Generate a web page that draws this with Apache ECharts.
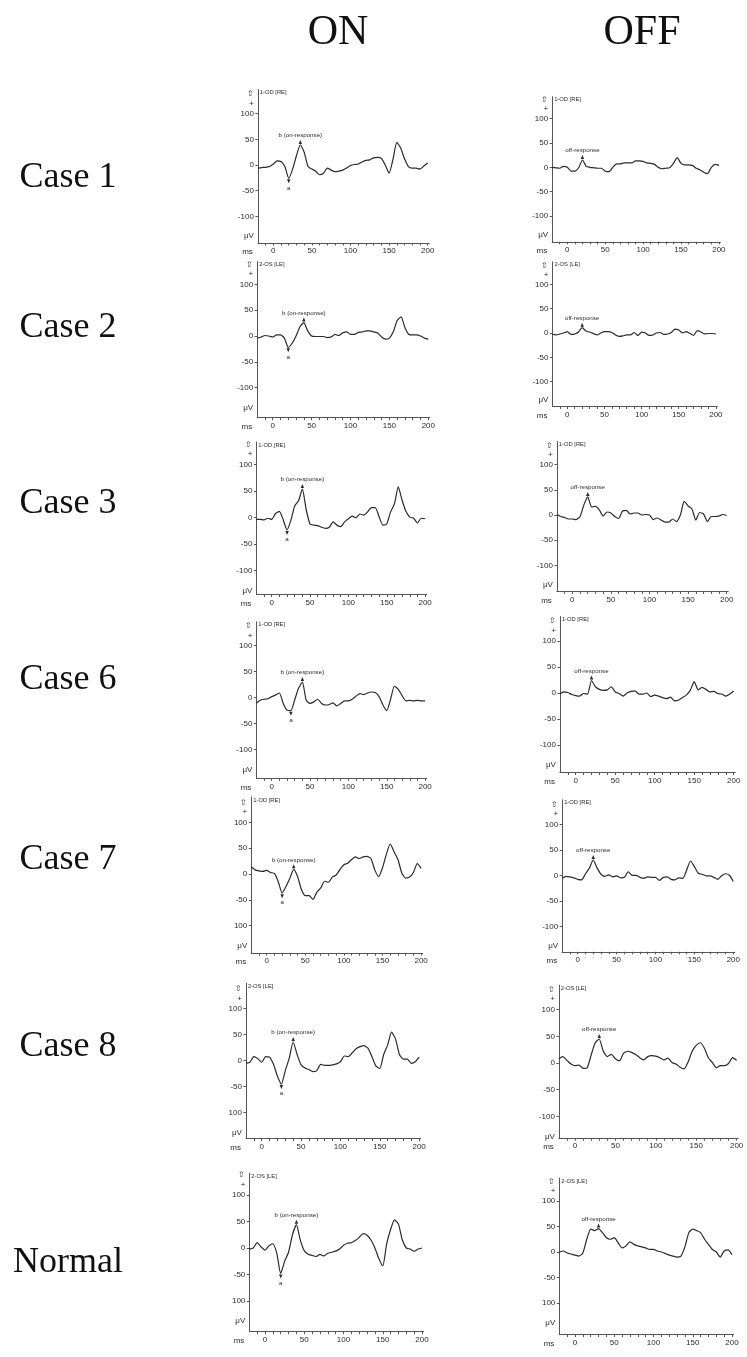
<!DOCTYPE html>
<html>
<head>
<meta charset="utf-8">
<script src="https://cdn.jsdelivr.net/npm/echarts@6/dist/echarts.min.js"></script>
<style>
html, body { margin: 0; padding: 0; background: #fff; }
#erg { width: 747px; height: 1357px; }
</style>
</head>
<body>
<div id="erg"></div>
<script>
// time base shared by every trace (ms), one sample every 5 ms
var timesMs = [-20,-15,-10,-5,0,5,10,15,20,25,30,35,40,45,50,55,60,65,70,75,80,85,90,95,100,
    105,110,115,120,125,130,135,140,145,150,155,160,165,170,175,180,185,190,195,200];

var rowNames = ['Case 1', 'Case 2', 'Case 3', 'Case 6', 'Case 7', 'Case 8', 'Normal'];
var eyeNames = ['1-OD [RE]', '2-OS [LE]', '1-OD [RE]', '1-OD [RE]', '1-OD [RE]', '2-OS [LE]', '2-OS [LE]'];
var yLabelValues = [-100, -50, 0, 50, 100];
var xLabelValues = [0, 50, 100, 150, 200];
var xTickValues = [-10,0,10,20,30,40,50,60,70,80,90,100,110,120,130,140,150,160,170,180,190,200];

// ON responses (µV)
var case1On = [-6,-5,-4.5,-3,2,8,7,-3,-26,-8, 18,39,25,-3,-8,-12,-19,-16,-6,-10, -13,-12,-10,-6,-1,1,2,6,9,10, 14,15,13,0,-16,11,44,33,12,-3, -6,-6,-8,-2,4];
var case2On = [-4,-2,1,0,-2,2,2,-4,-22,-14, 0,18,26,10,0,-1,-1,-1,-3,-2, 3,1,6,8,3,3,7,8,10,10, 8,6,-2,-6,-4,8,30,37,16,3, 2,2,0,-4,-6];
var case3On = [-3,-3,-4,-1,-3,8,12,-4,-23,-5, 22,32,54,15,-12,-14,-15,-18,-20,-18, -8,-14,-17,-8,-2,3,0,7,5,11, 19,19,2,-14,-12,11,26,58,33,12, 1,-1,-10,-1,-2];
var case6On = [-11,-5,-3,-2,2,5,9,-11,-24,-25, -4,18,30,-5,-11,-8,-3,-11,-14,-13, -10,-16,-11,-6,-6,-3,3,8,6,9, 11,10,2,-14,-25,-3,22,16,4,-6, -5,-6,-5,-6,-6];
var case7On = [14,8,6,5,7,3,1,-15,-37,-24, -8,9,-5,-30,-42,-42,-49,-35,-27,-14, -16,-6,-2,9,18,21,28,33,30,33, 34,30,8,-5,12,38,58,43,28,2, -8,-6,3,20,11];
var case8On = [-5,-3,8,4,-3,8,7,-7,-30,-45, -19,5,36,12,-8,-14,-17,-21,-19,-7, -9,-9,-8,-6,-2,9,8,15,23,27, 29,24,8,-10,-15,12,30,55,42,12, 3,3,-5,-2,7];
var normalOn = [-2,0,10,2,-4,4,8,-10,-48,-25, -8,25,44,15,-5,-12,-14,-16,-12,-15, -10,-8,-6,-2,5,9,10,14,20,27, 24,15,0,-20,-34,8,35,53,45,15, 0,-2,-6,-2,0];

// OFF responses (µV)
var case1Off = [0,-1,-2,2,0,-8,-8,-1,15,2, 0,-1,-2,-2,-8,-9,0,7,7,9, 9,9,13,13,12,9,8,6,0,-3, -2,-1,8,20,8,5,5,4,-2,-5, -10,-13,0,6,4];
var case2Off = [-3,-4,-2,0,3,-3,-2,2,11,4, 2,-1,-4,0,3,3,1,-4,-7,-6, -4,-4,1,-5,2,0,-5,-4,0,1, -3,-2,1,8,6,0,3,-1,-5,5, 2,-2,-1,-1,-2];
var case3Off = [1,-3,-5,-8,-8,-9,-3,20,36,16, 17,10,-2,6,4,-3,-7,8,9,2, 4,4,0,1,0,-9,-6,-10,-14,-14, -8,-13,0,27,18,12,-10,5,2,-13, -3,-3,-2,1,-1];
var case6Off = [-2,2,1,-3,-5,-6,-1,-2,24,12, 7,5,6,12,2,-1,-6,0,3,4, -2,-2,0,-7,-4,-6,-9,-11,-8,-15, -14,-9,-4,5,22,6,11,7,2,3, -1,-2,-6,-2,4];
var case7Off = [-6,-2,-3,-5,-8,-9,3,14,30,14, 2,-2,1,-3,-1,-5,-4,7,0,0, -4,-6,-3,-4,-4,-10,-4,-3,-8,-9, -5,-6,10,28,17,4,2,-1,-1,-4, -8,-1,3,0,-12];
var case8Off = [8,12,5,-2,-5,-4,-10,-9,15,38, 45,22,12,16,8,4,18,22,20,16, 10,6,12,14,13,10,6,9,1,-2, -8,-11,2,22,33,38,28,10,1,-9, -5,-5,-1,10,5];
var normalOff = [0,2,-2,-4,-6,-8,-2,25,45,42, 46,38,28,25,28,18,8,12,20,15, 12,10,8,5,5,2,0,-3,-6,-8, -10,-8,10,38,45,42,38,25,15,5, 0,-10,2,4,-5];

var onTraces = [case1On, case2On, case3On, case6On, case7On, case8On, normalOn];
var offTraces = [case1Off, case2Off, case3Off, case6Off, case7Off, case8Off, normalOff];

// where the a / b / off-response marks sit (ms)
var onPeakMs = [35, 40, 40, 40, 35, 40, 40];
var onTroughMs = [20, 20, 20, 25, 20, 25, 20];
var offPeakMs = [20, 20, 20, 20, 20, 30, 30];

// the printed figure lost the minus sign on some "-100" labels
var dropMinusOn = [false, false, false, false, true, true, true];
var dropMinusOff = [false, false, false, false, false, false, true];

// panel layout: [px of 0 ms, px per ms, px of 0 µV, px per µV, y min, y max]
var onLayout = [
    [273.3, 0.772, 165, 0.513, -152, 147],
    [272.7, 0.778, 336, 0.517, -158, 144],
    [271.7, 0.767, 517.7, 0.53, -145, 143],
    [271.7, 0.767, 697.7, 0.52, -155, 146],
    [266.7, 0.772, 874, 0.517, -153, 149],
    [261.7, 0.787, 1060.7, 0.52, -150, 149],
    [265, 0.785, 1248, 0.53, -158, 141]
];
var offLayout = [
    [567.3, 0.758, 167.3, 0.487, -153, 145],
    [567.3, 0.743, 333, 0.487, -151, 146],
    [572.3, 0.772, 515, 0.503, -152, 146],
    [575.7, 0.79, 693, 0.52, -153, 147],
    [577.7, 0.778, 875.3, 0.51, -150, 148],
    [575, 0.808, 1063, 0.533, -141, 146],
    [575, 0.785, 1252, 0.51, -162, 145]
];
var rowLabelY = [178, 328, 504, 680, 860, 1047, 1263];

var X_MIN = -20, X_MAX = 202;
var SANS = '"Liberation Sans", Arial, sans-serif';
var INK = '#2b2b2b';

var grids = [], xAxes = [], yAxes = [], series = [];

function mark(values, t, text, below) {
    var k = timesMs.indexOf(t);
    return {
        coord: [t, values[k]],
        symbol: 'triangle',
        symbolSize: [3.5, 4],
        symbolRotate: below ? 180 : 0,
        symbolOffset: [0, below ? 3 : -3],
        itemStyle: { color: INK },
        label: {
            show: true,
            position: below ? 'bottom' : 'top',
            distance: 1.5,
            formatter: text,
            fontSize: 6.2,
            fontFamily: SANS,
            color: INK
        }
    };
}

function addPanel(layout, values, eye, dropMinus, marks) {
    var i = grids.length;
    var x0 = layout[0], pxMs = layout[1], y0 = layout[2], pxUv = layout[3];
    var yMin = layout[4], yMax = layout[5];

    grids.push({
        left: x0 + X_MIN * pxMs,
        top: y0 - yMax * pxUv,
        width: (X_MAX - X_MIN) * pxMs,
        height: (yMax - yMin) * pxUv,
        containLabel: false,
        outerBoundsMode: 'none'
    });

    xAxes.push({
        type: 'value', gridIndex: i, min: X_MIN, max: X_MAX,
        name: 'ms', nameLocation: 'start', nameGap: 5,
        nameTextStyle: { fontSize: 8, fontFamily: SANS, color: INK, verticalAlign: 'top', padding: [5, 0, 0, 0] },
        axisLine: { show: true, onZero: false, lineStyle: { color: '#555', width: 1 } },
        axisTick: { show: true, length: 2.5, customValues: xTickValues, lineStyle: { color: '#555' } },
        axisLabel: { fontSize: 8, fontFamily: SANS, color: INK, margin: 4, customValues: xLabelValues },
        splitLine: { show: false }
    });

    yAxes.push({
        type: 'value', gridIndex: i, min: yMin, max: yMax,
        name: eye, nameLocation: 'end', nameGap: -3,
        nameTextStyle: { fontSize: 5.8, fontFamily: SANS, color: INK, align: 'left', verticalAlign: 'middle', padding: [0, 0, 0, 2] },
        axisLine: { show: true, onZero: false, lineStyle: { color: '#555', width: 1 } },
        axisTick: { show: true, length: 2.5, customValues: yLabelValues, lineStyle: { color: '#555' } },
        axisLabel: {
            fontSize: 8, fontFamily: SANS, color: INK, margin: 4,
            customValues: [-138, -100, -50, 0, 50, 100, 120, 138],
            formatter: function (v) {
                if (v === 138) return '⇧';
                if (v === 120) return '+';
                if (v === -138) return 'μV';
                if (v === -100 && dropMinus) return '100';
                return String(v);
            }
        },
        splitLine: { show: false }
    });

    series.push({
        type: 'line', xAxisIndex: i, yAxisIndex: i,
        data: timesMs.map(function (t, k) { return [t, values[k]]; }),
        symbol: 'none', smooth: 0.2,
        lineStyle: { color: INK, width: 1.2 },
        markPoint: { silent: true, animation: false, data: marks }
    });
}

for (var r = 0; r < rowNames.length; r++) {
    addPanel(onLayout[r], onTraces[r], eyeNames[r], dropMinusOn[r], [
        mark(onTraces[r], onPeakMs[r], 'b (on-response)', false),
        mark(onTraces[r], onTroughMs[r], 'a', true)
    ]);
    addPanel(offLayout[r], offTraces[r], eyeNames[r], dropMinusOff[r], [
        mark(offTraces[r], offPeakMs[r], 'off-response', false)
    ]);
}

var SERIF = '"Liberation Serif", "Times New Roman", serif';
var texts = [
    { type: 'text', x: 338, y: 33, style: { text: 'ON', font: '42px ' + SERIF, fill: '#111', textAlign: 'center', textVerticalAlign: 'middle', align: 'center', verticalAlign: 'middle' } },
    { type: 'text', x: 642, y: 33, style: { text: 'OFF', font: '42px ' + SERIF, fill: '#111', textAlign: 'center', textVerticalAlign: 'middle', align: 'center', verticalAlign: 'middle' } }
];
rowNames.forEach(function (name, k) {
    texts.push({
        type: 'text', x: 68, y: rowLabelY[k],
        style: { text: name, font: '36px ' + SERIF, fill: '#111', textAlign: 'center', textVerticalAlign: 'middle', align: 'center', verticalAlign: 'middle' }
    });
});

var ergChart = echarts.init(document.getElementById('erg'));
ergChart.setOption({
    animation: false,
    backgroundColor: '#fff',
    graphic: { elements: texts },
    grid: grids,
    xAxis: xAxes,
    yAxis: yAxes,
    series: series
});
</script>
</body>
</html>
